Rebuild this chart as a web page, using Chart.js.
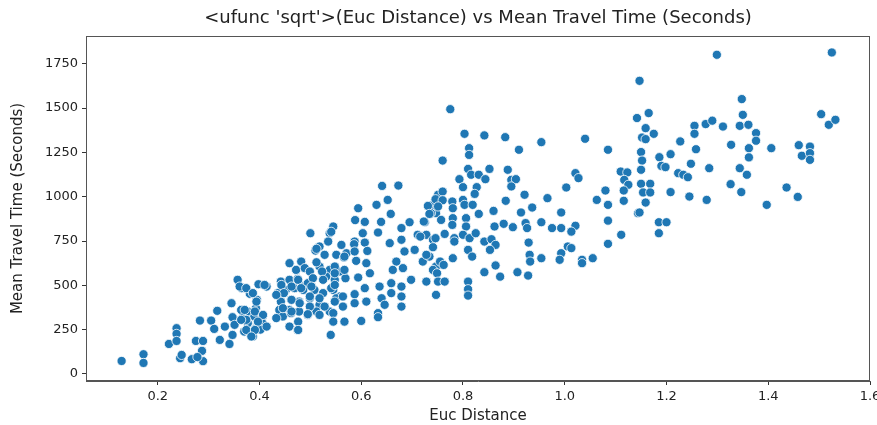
<!DOCTYPE html>
<html>
<head>
<meta charset="utf-8">
<script src="https://cdn.jsdelivr.net/npm/chart.js@4.4.0/dist/chart.umd.min.js"></script>
<style>
  html, body { margin: 0; padding: 0; background: #fff; }
  canvas { display: block; }
</style>
</head>
<body>
<canvas id="scatterChart" width="877" height="425"></canvas>
<script>
// sqrt(euclidean distance) per trip
const eucDistance = [
  // short trips
  0.129,0.172,0.172,0.222,0.237,0.237,0.237,0.244,0.247,0.267,
  0.275,0.289,0.287,0.289,0.278,0.283,0.305,0.311,0.317,0.322,
  0.332,0.341,0.345,0.347,0.357,0.365,0.381,0.398,0.414,0.395,
  0.364,0.377,0.367,0.390,0.406,0.377,0.406,0.351,0.393,0.370,
  0.387,0.347,0.402,0.393,0.459,0.482,0.472,0.489,0.442,0.459,
  0.475,0.436,0.452,0.469,0.485,0.442,0.462,0.478,0.439,0.459,
  0.478,0.446,0.462,0.459,0.475,
  // 0.35 - 0.6
  0.500,0.538,0.535,0.561,0.518,0.510,0.528,0.551,0.571,0.499,
  0.518,0.538,0.558,0.531,0.548,0.569,0.476,0.495,0.443,0.463,
  0.486,0.508,0.525,0.545,0.558,0.448,0.433,0.463,0.499,0.518,
  0.538,0.446,0.433,0.463,0.495,0.476,0.512,0.540,0.361,0.374,
  0.410,0.387,0.394,0.371,0.391,0.407,0.374,0.397,0.414,0.374,
  0.391,0.384,0.364,
  0.545,0.587,0.512,0.566,0.590,0.512,0.548,0.523,0.594,0.505,
  0.525,0.548,0.482,0.502,0.541,0.587,0.499,0.518,0.551,0.479,
  0.499,0.528,0.564,0.587,0.495,0.518,0.545,0.567,0.545,0.600,
  0.476,0.541,0.594,0.630,0.641,0.588,0.607,0.639,0.633,0.586,
  0.607,0.612,
  // 0.55 - 0.75
  0.673,0.652,0.658,0.603,0.679,0.695,0.711,0.725,0.741,0.747,
  0.737,0.751,0.679,0.728,0.741,0.656,0.685,0.705,0.567,0.587,
  0.610,0.669,0.721,0.734,0.747,0.567,0.617,0.662,0.682,0.698,
  0.728,0.548,0.564,0.607,0.636,0.659,0.679,0.659,0.679,0.640,
  0.610,0.548,0.646,0.679,0.747,0.633,0.633,
  // 0.7 - 0.93
  0.775,0.803,0.842,0.883,0.910,0.812,0.812,0.760,0.810,0.852,
  0.888,0.816,0.831,0.844,0.793,0.895,0.904,0.895,0.800,0.827,
  0.823,0.760,0.746,0.760,0.779,0.800,0.731,0.751,0.780,0.803,
  0.819,0.884,0.921,0.860,0.831,0.734,0.723,0.757,0.780,0.806,
  0.779,0.806,0.862,0.880,0.898,0.923,0.914,0.746,0.764,0.783,
  0.800,0.813,0.825,0.783,0.842,0.856,0.864,0.716,0.741,0.728,
  0.755,0.780,0.810,0.818,0.853,0.741,0.762,0.749,0.751,0.764,
  0.810,0.810,0.810,0.842,0.864,0.873,0.907,0.928,
  // 0.92 - 1.15
  1.142,1.040,0.954,1.085,1.021,1.027,1.003,0.966,1.110,1.123,
  1.117,1.125,1.080,1.116,1.063,1.085,1.116,1.144,0.936,0.993,
  0.926,0.954,0.975,0.993,1.021,1.013,1.085,1.111,0.929,1.006,
  1.013,0.993,0.931,0.932,0.954,0.990,1.034,1.055,1.085,1.034,
  // 1.14 - 1.38
  1.299,1.147,1.348,1.165,1.350,1.159,1.175,1.152,1.159,1.255,
  1.277,1.290,1.311,1.344,1.361,1.255,1.376,1.376,1.227,1.327,
  1.362,1.258,1.362,1.150,1.152,1.186,1.208,1.150,1.190,1.198,
  1.248,1.284,1.223,1.233,1.242,1.344,1.358,1.150,1.168,1.154,
  1.168,1.208,1.245,1.279,1.326,1.347,1.159,1.147,1.185,1.200,
  1.185,
  // long trips
  1.525,1.504,1.519,1.532,1.406,1.460,1.482,1.466,1.482,1.482,
  1.436,1.458,1.397
];

const meanTravelTime = [
  73,111,62,169,258,226,186,89,107,83,
  186,186,130,72,95,301,301,254,356,192,
  267,169,399,320,531,484,452,506,493,418,
  361,352,315,324,324,286,286,277,258,239,
  211,220,250,371,625,634,587,597,521,531,
  536,456,474,484,493,408,418,408,361,361,
  352,324,343,267,248,

  794,794,747,728,719,696,672,672,681,578,
  606,587,578,549,531,540,531,512,502,493,
  474,474,456,474,437,456,446,418,427,390,
  352,371,315,352,333,295,352,220,493,484,
  502,456,408,361,352,333,305,295,267,248,
  248,211,305,
  832,747,706,657,638,630,606,578,544,540,
  531,568,484,493,484,450,437,427,427,399,
  380,380,380,399,337,333,343,295,295,299,
  248,802,935,954,1061,868,858,858,798,732,
  741,694,

  1063,982,903,794,823,856,785,856,954,907,
  907,1011,757,785,757,738,691,700,662,691,
  625,634,634,662,606,587,568,587,597,531,
  521,502,437,484,493,512,493,456,437,427,
  408,408,390,380,446,343,320,

  1494,1355,1346,1336,1265,1274,1236,1204,1157,1157,
  1152,1124,1124,1099,1099,1095,1099,1058,1054,1054,
  1016,1029,986,980,973,982,948,945,935,954,
  954,977,1011,920,903,903,860,869,879,879,
  841,832,832,847,828,851,911,766,790,766,
  785,766,794,747,747,760,728,775,715,672,
  634,653,700,662,700,587,615,568,521,521,
  521,478,442,574,612,549,574,555,

  1444,1327,1308,1265,1133,1105,1052,992,1142,1137,
  1095,1067,1035,1035,982,954,977,907,939,911,
  823,856,823,823,836,803,865,785,741,719,
  710,681,672,634,653,644,644,653,734,625,

  1801,1654,1551,1472,1462,1387,1355,1334,1325,1400,
  1410,1429,1396,1400,1406,1355,1359,1316,1312,1293,
  1274,1268,1222,1252,1204,1223,1240,1152,1174,1167,
  1186,1161,1133,1124,1110,1161,1124,1073,1073,1024,
  1024,1026,1001,982,1071,1026,967,911,856,856,
  794,

  1814,1466,1406,1434,1274,1291,1283,1231,1246,1208,
  1052,999,954
];

const xTicks = [0.2, 0.4, 0.6, 0.8, 1.0, 1.2, 1.4, 1.6];
const yTicks = [0, 250, 500, 750, 1000, 1250, 1500, 1750];
const chartTitle = "<ufunc 'sqrt'>(Euc Distance) vs Mean Travel Time (Seconds)";

const FONT = 'DejaVu Sans';
const points = eucDistance.map((x, i) => ({ x: x, y: meanTravelTime[i] }));

// title centred over the axes box + the four spines, like matplotlib
const titleAndFrame = {
    id: 'titleAndFrame',
    afterDraw(chart) {
        const { ctx, chartArea } = chart;
        ctx.save();
        ctx.strokeStyle = '#555';
        ctx.lineWidth = 1;
        ctx.strokeRect(chartArea.left + 0.5, chartArea.top + 0.5,
            chartArea.right - chartArea.left - 1, chartArea.bottom - chartArea.top - 1);
        ctx.fillStyle = '#222';
        ctx.font = '18px "' + FONT + '"';
        ctx.textAlign = 'center';
        ctx.textBaseline = 'middle';
        ctx.fillText(chartTitle, (chartArea.left + chartArea.right) / 2, chartArea.top - 18);
        ctx.restore();
    }
};

const ctx = document.getElementById('scatterChart').getContext('2d');
const chart = new Chart(ctx, {
    type: 'scatter',
    data: {
        datasets: [{
            label: 'trips',
            data: points,
            backgroundColor: '#1f77b4',
            borderColor: '#ffffff',
            borderWidth: 0.8,
            pointRadius: 4.6,
            pointHoverRadius: 4.6
        }]
    },
    options: {
        responsive: false,
        animation: false,
        devicePixelRatio: 1,
        layout: { padding: { top: 36, right: 7, bottom: 0, left: 0 } },
        plugins: {
            legend: { display: false },
            tooltip: { enabled: false },
            title: { display: false }
        },
        scales: {
            x: {
                type: 'linear',
                min: 0.059,
                max: 1.6,
                afterBuildTicks: s => { s.ticks = xTicks.map(v => ({ value: v })); },
                afterFit: s => { s.height = 44; s.paddingLeft = 0; s.paddingRight = 0; },
                grid: { display: true, drawOnChartArea: false, drawTicks: true, tickLength: 4, color: '#333' },
                border: { display: true, color: '#555' },
                ticks: {
                    font: { family: FONT, size: 13 },
                    color: '#222',
                    padding: 4,
                    maxRotation: 0,
                    autoSkip: false,
                    callback: v => v.toFixed(1)
                },
                title: {
                    display: true,
                    text: 'Euc Distance',
                    font: { family: FONT, size: 15 },
                    color: '#222',
                    padding: { top: 0, bottom: 0 }
                }
            },
            y: {
                type: 'linear',
                min: -40,
                max: 1907,
                afterBuildTicks: s => { s.ticks = yTicks.map(v => ({ value: v })); },
                afterFit: s => { s.width = 86; s.paddingTop = 0; s.paddingBottom = 0; },
                grid: { display: true, drawOnChartArea: false, drawTicks: true, tickLength: 4, color: '#333' },
                border: { display: true, color: '#555' },
                ticks: {
                    font: { family: FONT, size: 13 },
                    color: '#222',
                    padding: 4,
                    autoSkip: false,
                    callback: v => String(v)
                },
                title: {
                    display: true,
                    text: 'Mean Travel Time (Seconds)',
                    font: { family: FONT, size: 15 },
                    color: '#222',
                    padding: { top: 9, bottom: 0 }
                }
            }
        }
    },
    plugins: [titleAndFrame]
});
</script>
</body>
</html>
